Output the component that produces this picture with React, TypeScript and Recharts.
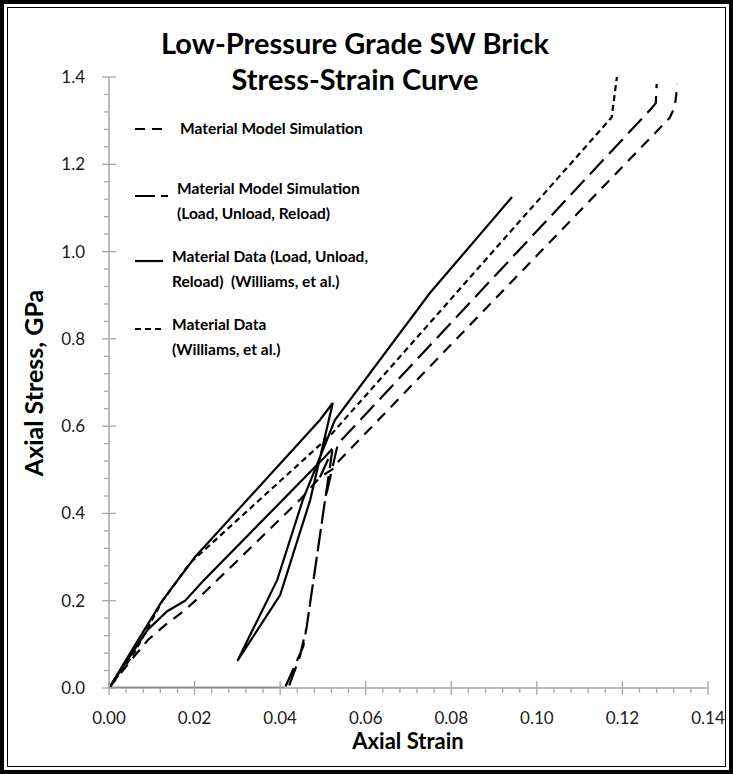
import React from 'react';
import { LineChart, Line, XAxis, YAxis } from 'recharts';

// ---- axis ticks ----
const xMajorTicks = [0, 0.02, 0.04, 0.06, 0.08, 0.1, 0.12, 0.14];
const xTickLabels = ['0.00', '0.02', '0.04', '0.06', '0.08', '0.10', '0.12', '0.14'];
const yMajorTicks = [0, 0.2, 0.4, 0.6, 0.8, 1.0, 1.2, 1.4];
const yTickLabels = ['0.0', '0.2', '0.4', '0.6', '0.8', '1.0', '1.2', '1.4'];

// ---- series: Material Data (Load, Unload, Reload) (Williams, et al.) - solid ----
const dataLurStrain = [0, 0.0062, 0.0123, 0.0201, 0.0493, 0.0523, 0.047, 0.04, 0.03, 0.0393, 0.0453, 0.0528, 0.075, 0.0942];
const dataLurStress = [0, 0.1, 0.198, 0.3, 0.614, 0.653, 0.43, 0.213, 0.062, 0.247, 0.431, 0.614, 0.905, 1.125];
// second loading branch of the same data (solid)
const dataLur2Strain = [0, 0.009, 0.0136, 0.0178, 0.022, 0.0505, 0.0522];
const dataLur2Stress = [0, 0.133, 0.176, 0.2, 0.245, 0.53, 0.548];

// ---- series: Material Data (Williams, et al.) - short dash ----
const dataMonoStrain = [0, 0.0056, 0.0124, 0.0189, 0.0493, 0.0523, 0.1175, 0.1187];
const dataMonoStress = [0, 0.075, 0.198, 0.286, 0.557, 0.585, 1.308, 1.4];

// ---- series: Material Model Simulation - medium dash ----
const modelStrain = [0, 0.0056, 0.0091, 0.0131, 0.0178, 0.0224, 0.0294, 0.0446, 0.0493, 0.0525, 0.0537, 0.131, 0.1322, 0.1329];
const modelStress = [0, 0.069, 0.11, 0.144, 0.179, 0.22, 0.286, 0.431, 0.483, 0.503, 0.52, 1.306, 1.33, 1.384];

// ---- series: Material Model Simulation (Load, Unload, Reload) - long dash ----
const modelLurStrain = [0.0493, 0.0522, 0.0462, 0.0454, 0.0411, 0.0419, 0.0446, 0.0462, 0.0505, 0.0535, 0.055, 0.1264, 0.1278, 0.128];
const modelLurStress = [0.483, 0.545, 0.14, 0.095, 0, 0, 0.072, 0.14, 0.431, 0.56, 0.575, 1.324, 1.34, 1.384];

// ---- zero-stress segment ----
const zeroStrain = [0, 0.041];
const zeroStress = [0, 0];

const toPts = (xs: number[], ys: number[]) => xs.map((x, i) => ({ x, y: ys[i] }));

const withMinors = (majors: number[]) => {
  const out: number[] = [];
  for (let i = 0; i < majors.length; i++) {
    out.push(majors[i]);
    if (i < majors.length - 1) {
      const step = (majors[i + 1] - majors[i]) / 5;
      for (let k = 1; k < 5; k++) out.push(+(majors[i] + k * step).toFixed(6));
    }
  }
  return out;
};

const FONT = 'Lato, "Open Sans", sans-serif';
const AXIS = '#a6a6a6';

const majorIndex = (v: number, majors: number[]) =>
  majors.findIndex((m) => Math.abs(m - v) < 1e-7);

const XTick = (props: any) => {
  const { x, y, payload } = props;
  const idx = majorIndex(payload.value, xMajorTicks);
  const major = idx >= 0;
  return (
    <g>
      <line x1={x} x2={x} y1={major ? y - 7 : y} y2={y + (major ? 7 : 5)} stroke={AXIS} strokeWidth={1.3} />
      {major && (
        <text x={x} y={y + 36} textAnchor="middle" fontSize={17} fontFamily={FONT} fill="#1a1a1a">
          {xTickLabels[idx]}
        </text>
      )}
    </g>
  );
};

const YTick = (props: any) => {
  const { x, y, payload } = props;
  const idx = majorIndex(payload.value, yMajorTicks);
  const major = idx >= 0;
  return (
    <g>
      <line x1={x - (major ? 7 : 5)} x2={major ? x + 7 : x} y1={y} y2={y} stroke={AXIS} strokeWidth={1.3} />
      {major && (
        <text x={x - 24} y={y + 6} textAnchor="end" fontSize={17} fontFamily={FONT} fill="#1a1a1a">
          {yTickLabels[idx]}
        </text>
      )}
    </g>
  );
};

const LegendSample = ({ dash, len = 28 }: { dash?: string; len?: number }) => (
  <svg width={40} height={10} style={{ position: 'absolute', left: 0, top: 0 }}>
    <line x1={0} x2={len} y1={5} y2={5} stroke="#000" strokeWidth={2.2} strokeDasharray={dash} />
  </svg>
);

const legendText: React.CSSProperties = {
  position: 'absolute',
  fontFamily: FONT,
  fontWeight: 700,
  fontSize: 15.5,
  color: '#000',
  whiteSpace: 'nowrap',
  lineHeight: '25px',
};

export default function App() {
  const lineProps = { type: 'linear' as const, dataKey: 'y', dot: false, isAnimationActive: false, stroke: '#000', strokeWidth: 2.2 };
  return (
    <div style={{ position: 'absolute', left: 0, top: 0, width: 733, height: 774, background: '#fff', overflow: 'hidden' }}>
      <div style={{ position: 'absolute', left: 0, top: 0, width: 733, height: 774, boxSizing: 'border-box', border: '4px solid #000' }} />
      <div style={{ position: 'absolute', left: 7, top: 7, width: 719, height: 760, boxSizing: 'border-box', border: '1.5px solid #000' }} />
      <div style={{ position: 'absolute', left: 0, top: 0 }}>
        <LineChart width={733} height={774} margin={{ top: 77, right: 25, bottom: 56, left: 49 }}>
          <XAxis
            type="number"
            dataKey="x"
            domain={[0, 0.14]}
            ticks={withMinors(xMajorTicks)}
            interval={0}
            allowDataOverflow
            height={30}
            tickSize={0}
            tickMargin={0}
            tickLine={false}
            axisLine={{ stroke: AXIS, strokeWidth: 1.5 }}
            tick={<XTick />}
          />
          <YAxis
            type="number"
            dataKey="y"
            domain={[0, 1.4]}
            ticks={withMinors(yMajorTicks)}
            interval={0}
            allowDataOverflow
            width={60}
            tickSize={0}
            tickMargin={0}
            tickLine={false}
            axisLine={{ stroke: AXIS, strokeWidth: 1.5 }}
            tick={<YTick />}
          />
          <Line {...lineProps} data={toPts(zeroStrain, zeroStress)} stroke="#3a3a3a" strokeWidth={2.5} />
          <Line {...lineProps} data={toPts(dataLur2Strain, dataLur2Stress)} />
          <Line {...lineProps} data={toPts(dataLurStrain, dataLurStress)} />
          <Line {...lineProps} data={toPts(dataMonoStrain, dataMonoStress)} strokeDasharray="6 4" />
          <Line {...lineProps} data={toPts(modelStrain, modelStress)} strokeDasharray="11 8" />
          <Line {...lineProps} data={toPts(modelLurStrain, modelLurStress)} strokeDasharray="20 8" />
        </LineChart>
      </div>

      {/* Title */}
      <div style={{ position: 'absolute', left: 0, width: 710, top: 25, textAlign: 'center', fontFamily: FONT, fontWeight: 700, fontSize: 29, lineHeight: '36px', color: '#000' }}>
        Low-Pressure Grade SW Brick
        <br />
        Stress-Strain Curve
      </div>

      {/* Axis titles */}
      <div style={{ position: 'absolute', left: 108, width: 600, top: 727, textAlign: 'center', fontFamily: FONT, fontWeight: 700, fontSize: 22, color: '#000' }}>
        Axial Strain
      </div>
      <div style={{ position: 'absolute', left: 33, top: 383, width: 0, height: 0 }}>
        <div style={{ position: 'absolute', left: -150, top: -15, width: 300, textAlign: 'center', transform: 'rotate(-90deg)', fontFamily: FONT, fontWeight: 700, fontSize: 25, color: '#000', lineHeight: '30px' }}>
          Axial Stress, GPa
        </div>
      </div>

      {/* Legend */}
      <div style={{ position: 'absolute', left: 135, top: 124 }}><LegendSample dash="10 7" /></div>
      <div style={{ ...legendText, left: 180, top: 116 }}>Material Model Simulation</div>

      <div style={{ position: 'absolute', left: 135, top: 191 }}><LegendSample dash="20 6" len={33} /></div>
      <div style={{ ...legendText, left: 177, top: 176 }}>Material Model Simulation<br />(Load, Unload, Reload)</div>

      <div style={{ position: 'absolute', left: 135, top: 256 }}><LegendSample /></div>
      <div style={{ ...legendText, left: 172, top: 244 }}>Material Data (Load, Unload,<br />Reload)&nbsp;&nbsp;(Williams, et al.)</div>

      <div style={{ position: 'absolute', left: 135, top: 324 }}><LegendSample dash="6 4" /></div>
      <div style={{ ...legendText, left: 172, top: 312 }}>Material Data<br />(Williams, et al.)</div>
    </div>
  );
}
